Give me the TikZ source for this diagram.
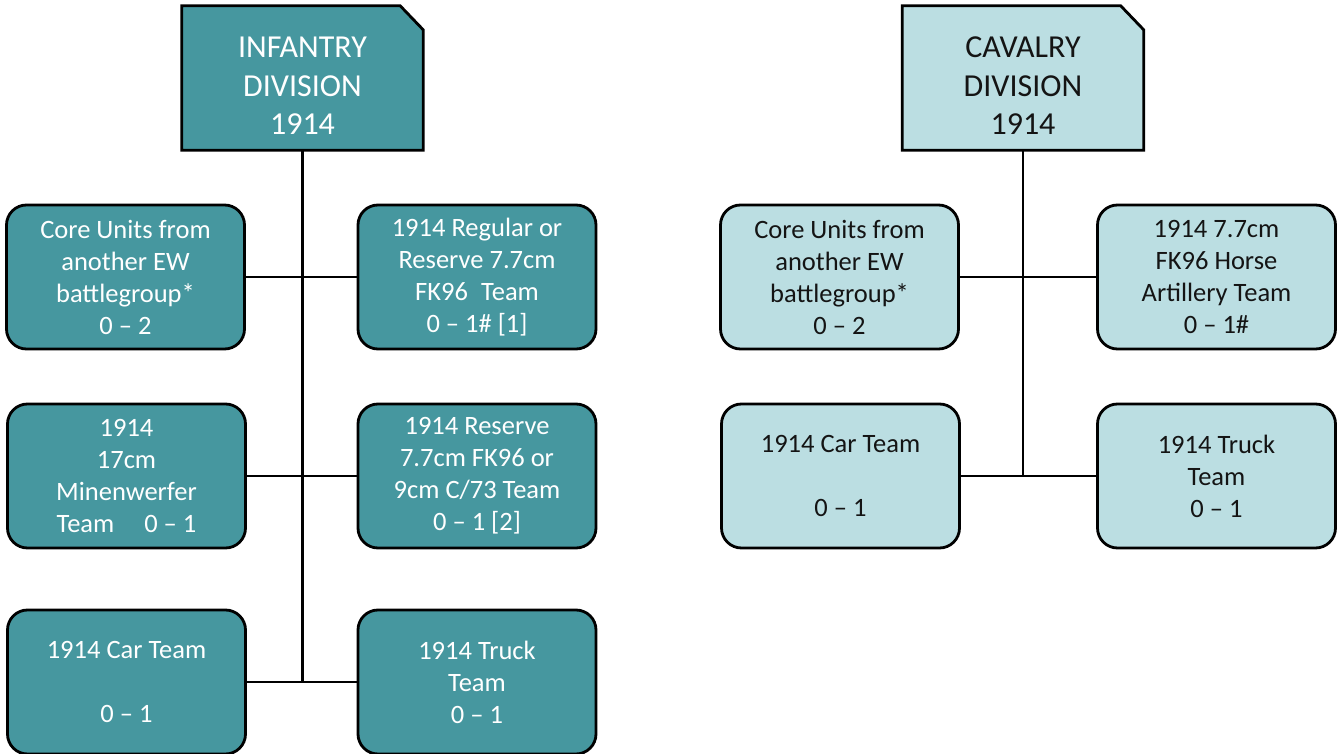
\documentclass[tikz,border=0pt]{standalone}
\usepackage{fontspec}
\setmainfont{Carlito}
\usetikzlibrary{backgrounds}
\definecolor{teal1}{RGB}{70,151,159}
\definecolor{teal2}{RGB}{187,222,226}
\definecolor{ink}{RGB}{20,20,20}
\begin{document}
\begin{tikzpicture}[x=1pt,y=-1pt,
  hdr/.style={rectangle, minimum width=241pt, minimum height=144pt,
    inner sep=0pt},
  hdrtext/.style={align=center, inner sep=0pt,
    font=\fontsize{32}{38.5}\selectfont},
  hdrshape/.style={draw=black, line width=2.8pt, line join=miter},
  unit/.style={draw=black, line width=2.8pt, rounded corners=20pt,
    minimum width=238pt, minimum height=144pt, inner sep=0pt, align=center,
    font=\fontsize{26.5}{32}\selectfont},
  dark/.style={fill=teal1, text=white},
  light/.style={fill=teal2, text=ink},
  link/.style={draw=black, line width=2.6pt}]
\useasboundingbox (0,0) rectangle (1342,754);

% ---- Infantry division ----
\node[hdr] (inf) at (302.5,78) {};
\node[hdrtext, text=white] (inf-t) at (302.5,86)
  {INFANTRY\\DIVISION\\1914};

\node[unit, dark] (i1) at (125.5,277) {Core Units from\\another EW\\battlegroup*\\0 \textendash{} 2};
\node[unit, dark] (i2) at (477,277) {1914 Regular or\\Reserve 7.7cm\\FK96\hspace{0.5em}Team\\0 \textendash{} 1\# [1]};
\node[unit, dark] (i3) at (126.5,476) {1914\\17cm\\Minenwerfer\\Team\hspace{30pt}0 \textendash{} 1};
\node[unit, dark] (i4) at (477,476) {1914 Reserve\\7.7cm FK96 or\\9cm C/73 Team\\0 \textendash{} 1 [2]};
\node[unit, dark] (i5) at (126.5,682) {1914 Car Team\\[32pt]0 \textendash{} 1};
\node[unit, dark] (i6) at (477,682) {1914 Truck\\Team\\0 \textendash{} 1};

% ---- Cavalry division ----
\node[hdr] (cav) at (1023,78) {};
\node[hdrtext, text=ink] (cav-t) at (1023,86)
  {CAVALRY\\DIVISION\\1914};

\node[unit, light] (c1) at (839.5,277) {Core Units from\\another EW\\battlegroup*\\0 \textendash{} 2};
\node[unit, light] (c2) at (1216.5,277) {1914 7.7cm\\FK96 Horse\\Artillery Team\\0 \textendash{} 1\#};
\node[unit, light] (c3) at (840.5,476) {1914 Car Team\\[32pt]0 \textendash{} 1};
\node[unit, light] (c4) at (1216.5,476) {1914 Truck\\Team\\0 \textendash{} 1};

\begin{scope}[on background layer]
  \fill[white] (0,0) rectangle (1342,754);
  % division boxes with a clipped top-right corner
  \path[hdrshape, fill=teal1] (inf.south west) -- (inf.north west)
    -- ([xshift=-23pt]inf.north east) -- ([yshift=-24pt]inf.north east)
    -- (inf.south east) -- cycle;
  \path[hdrshape, fill=teal2] (cav.south west) -- (cav.north west)
    -- ([xshift=-23pt]cav.north east) -- ([yshift=-24pt]cav.north east)
    -- (cav.south east) -- cycle;
  % infantry tree
  \path[link] (inf.south) -- (inf.south |- i5.east);
  \path[link] (i1.east) -- (i2.west);
  \path[link] (i3.east) -- (i4.west);
  \path[link] (i5.east) -- (i6.west);
  % cavalry tree
  \path[link] (cav.south) -- (cav.south |- c3.east);
  \path[link] (c1.east) -- (c2.west);
  \path[link] (c3.east) -- (c4.west);
\end{scope}
\end{tikzpicture}
\end{document}
